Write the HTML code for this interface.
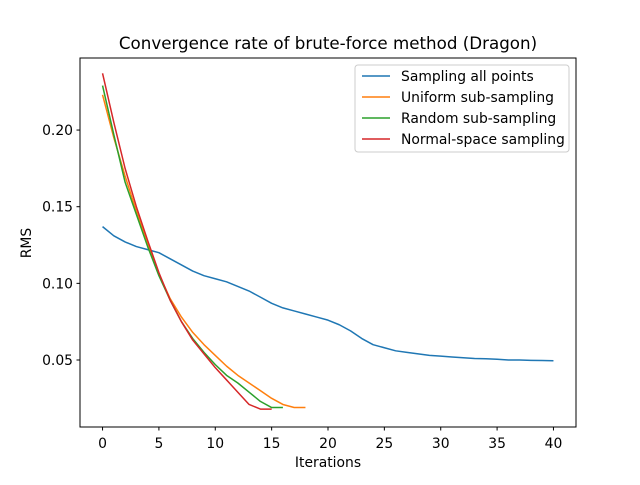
<!DOCTYPE html>
<html><head><meta charset="utf-8"><style>
body{margin:0;background:#fff}
text{font-family:"DejaVu Sans","Liberation Sans",sans-serif;fill:#000}
</style></head><body>
<svg id="chart" width="640" height="480" xmlns="http://www.w3.org/2000/svg">
<rect width="640" height="480" fill="#fff"/>
<text x="328" y="49" font-size="16.7" text-anchor="middle">Convergence rate of brute-force method (Dragon)</text>
<g id="plot"></g>
<rect x="80" y="58" width="496" height="369" fill="none" stroke="#000" stroke-width="1"/>
<text x="328" y="467" font-size="13.9" text-anchor="middle">Iterations</text>
<text transform="translate(31,243) rotate(-90)" font-size="13.9" text-anchor="middle">RMS</text>
<g>
<rect x="355" y="65" width="214" height="87" rx="3" fill="#fff" stroke="#ccc"/>
</g>
</svg>
<script>
const xTicks=[0,5,10,15,20,25,30,35,40];
const yTicks=[0.05,0.10,0.15,0.20];
const yTickLabels=["0.05","0.10","0.15","0.20"];
const seriesNames=["Sampling all points","Uniform sub-sampling","Random sub-sampling","Normal-space sampling"];
const seriesColors=["#1f77b4","#ff7f0e","#2ca02c","#d62728"];
const allPoints=[0.137,0.131,0.127,0.124,0.122,0.120,0.116,0.112,0.108,0.105,0.103,0.101,0.098,0.095,0.091,0.087,0.084,0.082,0.080,0.078,0.076,0.073,0.069,0.064,0.060,0.058,0.056,0.055,0.054,0.053,0.0525,0.052,0.0515,0.051,0.0508,0.0505,0.050,0.050,0.0498,0.0497,0.0495];
const uniform=[0.223,0.195,0.170,0.147,0.126,0.106,0.090,0.078,0.068,0.060,0.053,0.046,0.040,0.035,0.030,0.025,0.021,0.019,0.019];
const random=[0.229,0.197,0.166,0.145,0.124,0.105,0.089,0.075,0.064,0.055,0.047,0.040,0.035,0.029,0.023,0.019,0.019];
const normalSpace=[0.237,0.205,0.175,0.150,0.128,0.107,0.089,0.075,0.063,0.054,0.045,0.037,0.029,0.021,0.018,0.018];
const series=[allPoints,uniform,random,normalSpace];
const seriesKeys=["all-points","uniform","random","normal-space"];

const NS="http://www.w3.org/2000/svg";
const svg=document.getElementById('chart');
const plot=document.getElementById('plot');
const X0=80,X1=576,Y0=58,Y1=427,xmin=-2,xmax=42,ymin=0.0063,ymax=0.247;
const sx=v=>X0+(v-xmin)/(xmax-xmin)*(X1-X0);
const sy=v=>Y1-(v-ymin)/(ymax-ymin)*(Y1-Y0);
function mk(tag,attrs,parent){const e=document.createElementNS(NS,tag);for(const k in attrs)e.setAttribute(k,attrs[k]);(parent||svg).appendChild(e);return e;}

xTicks.forEach(t=>{
  const l=mk('line',{x1:sx(t),x2:sx(t),y1:Y1,y2:Y1+3.5,stroke:'#000'});
  
  
  const tx=mk('text',{x:sx(t),y:Y1+21,'font-size':13.9,'text-anchor':'middle'});
  tx.textContent=t;
  
  
});
yTicks.forEach((t,i)=>{
  const l=mk('line',{x1:X0-3.5,x2:X0,y1:sy(t),y2:sy(t),stroke:'#000'});
  
  
  const tx=mk('text',{x:X0-7,y:sy(t)+5,'font-size':13.9,'text-anchor':'end'});
  tx.textContent=yTickLabels[i];
  
  
});
series.forEach((s,i)=>{
  const p=mk('polyline',{points:s.map((v,j)=>sx(j)+','+sy(v)).join(' '),fill:'none',stroke:seriesColors[i],'stroke-width':1.5,'stroke-linejoin':'round'},plot);
  
  
  const y=76+i*21;
  const ll=mk('line',{x1:362,x2:390,y1:y,y2:y,stroke:seriesColors[i],'stroke-width':1.5});
  
  
  const lt=mk('text',{x:401,y:y+5,'font-size':13.9});
  lt.textContent=seriesNames[i];
  
  
});
</script>
</body></html>
